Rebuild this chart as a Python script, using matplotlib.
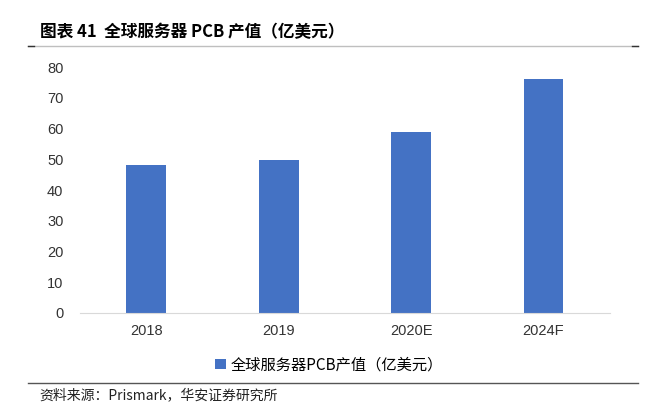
import matplotlib.pyplot as plt
from matplotlib.lines import Line2D

plt.rcParams['font.family'] = ['Liberation Sans', 'Noto Sans CJK SC', 'DejaVu Sans']

categories = ['2018', '2019', '2020E', '2024F']
values = [48, 49.7, 59, 76]
series_name = '全球服务器PCB产值（亿美元）'
title = '图表 41  全球服务器 PCB 产值（亿美元）'
source = '资料来源：Prismark，华安证券研究所'

fig = plt.figure(figsize=(6.48, 4.19), dpi=100)
ax = fig.add_axes([0.1235, 0.253, 0.8175, 0.587])

bars = ax.bar(categories, values, width=0.3, color='#4472C4', label=series_name)
ax.set_ylim(0, 80)
ax.set_yticks(range(0, 81, 10))
ax.set_xlim(-0.5, 3.5)
for s in ['top', 'right', 'left']:
    ax.spines[s].set_visible(False)
ax.spines['bottom'].set_color('#D9D9D9')
ax.tick_params(axis='both', length=0, labelsize=10.5, colors='#333333')
ax.tick_params(axis='x', pad=8)
ax.tick_params(axis='y', pad=12)

ax.legend(loc='upper center', bbox_to_anchor=(0.47, -0.12), frameon=False,
          handlelength=0.7, handleheight=0.7, handletextpad=0.3,
          prop={'family': ['Noto Sans CJK SC'], 'size': 11})

# title and rules
fig.text(0.062, 0.923, title, fontsize=12, fontweight='bold',
         family=['Noto Sans CJK SC'], va='center', ha='left')
fig.add_artist(Line2D([0.043, 0.985], [0.89, 0.89], color='#BFBFBF', lw=1))
fig.add_artist(Line2D([0.043, 0.052], [0.89, 0.89], color='#333333', lw=1))
fig.add_artist(Line2D([0.976, 0.985], [0.89, 0.89], color='#333333', lw=1))
fig.add_artist(Line2D([0.043, 0.985], [0.086, 0.086], color='#555555', lw=1))
fig.text(0.06, 0.057, source, fontsize=10, family=['Noto Sans CJK SC'],
         va='center', ha='left', color='#222222')

fig.savefig('out.png', dpi=100)
